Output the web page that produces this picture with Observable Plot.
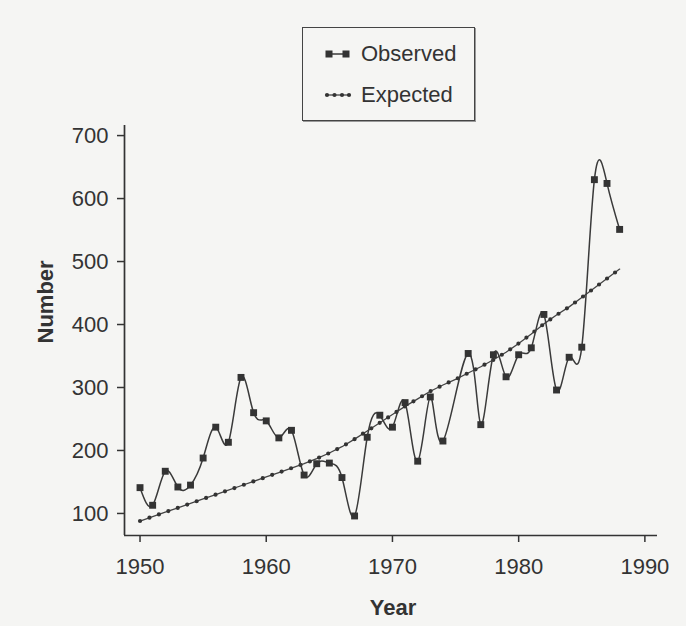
<!DOCTYPE html>
<html>
<head>
<meta charset="utf-8">
<script src="https://cdn.jsdelivr.net/npm/d3@7"></script>
<script src="https://cdn.jsdelivr.net/npm/@observablehq/plot@0.6"></script>
<style>
  html, body { margin: 0; padding: 0; background: #f5f5f3; }
  #wrap { position: relative; width: 686px; height: 626px; font-family: "Liberation Sans", Arial, Helvetica, sans-serif; color: #333; }
  #legend { position: absolute; left: 302px; top: 27px; width: 173px; height: 94px; box-sizing: border-box;
            border: 1.5px solid #444; box-shadow: 1px 1px 0 #999; background: transparent; }
  #legend .row { position: absolute; left: 0; height: 30px; display: flex; align-items: center; font-size: 22px; }
  #legend svg { display: block; }
</style>
</head>
<body>
<div id="wrap"></div>
<script>
// ---- data ----
const obsYears = [1950,1951,1952,1953,1954,1955,1956,1957,1958,1959,1960,1961,1962,1963,1964,1965,1966,1967,1968,1969,1970,1971,1972,1973,1974,1976,1977,1978,1979,1980,1981,1982,1983,1984,1985,1986,1987,1988];
const obsValues = [141,113,167,142,145,188,237,213,316,260,247,220,232,161,179,180,157,96,221,256,237,276,183,285,215,354,241,352,317,352,363,416,296,348,364,630,624,551];

const expYears = [1950,1951,1952,1953,1954,1955,1956,1957,1958,1959,1960,1961,1962,1963,1964,1965,1966,1967,1968,1969,1970,1971,1972,1973,1974,1975,1976,1977,1978,1979,1980,1981,1982,1983,1984,1985,1986,1987,1988];
const expValues = [88,95,102,109,116,123,130,137,144,151,158,165,172,179,187,196,206,218,231,244,257,270,282,294,304,313,323,333,344,356,370,385,401,415,428,443,458,473,488];

const xTicks = [1950,1960,1970,1980,1990];
const yTicks = [100,200,300,400,500,600,700];
const xDomain = [1948.77, 1991.0];
const yDomain = [65, 716];
const seriesNames = ["Observed", "Expected"];
const xTitle = "Year";
const yTitle = "Number";

const observed = obsYears.map((year, i) => ({year, value: obsValues[i]}));
const expected = expYears.map((year, i) => ({year, value: expValues[i]}));

const ink = "#333";
const font = "Liberation Sans, Arial, Helvetica, sans-serif";

const chart = Plot.plot({
  width: 686,
  height: 626,
  marginLeft: 124,
  marginRight: 29,
  marginTop: 125,
  marginBottom: 91,
  style: { background: "transparent", fontFamily: font, fontSize: "22px", color: ink, overflow: "visible" },
  x: { domain: xDomain },
  y: { domain: yDomain },
  marks: [
    Plot.axisX({ ticks: xTicks, tickFormat: d => String(d), tickSize: 7, tickPadding: 16, fontSize: 22, label: null, strokeWidth: 1.5 }),
    Plot.axisY({ ticks: yTicks, tickFormat: d => String(d), tickSize: 7, tickPadding: 9, fontSize: 22, label: null, strokeWidth: 1.5 }),
    Plot.ruleX([xDomain[0]], { stroke: ink, strokeWidth: 1.7 }),
    Plot.ruleY([yDomain[0]], { stroke: ink, strokeWidth: 1.7 }),
    // expected: thin line with dots along it
    Plot.line(expected, { x: "year", y: "value", stroke: "#444", strokeWidth: 1.3 }),
    Plot.line(expected, { x: "year", y: "value", stroke: ink, strokeWidth: 4.2, strokeDasharray: "0 10", strokeLinecap: "round" }),
    // observed: smoothed spline with square markers
    Plot.line(observed, { x: "year", y: "value", curve: "natural", stroke: "#3a3a3a", strokeWidth: 1.5 }),
    Plot.dot(observed, { x: "year", y: "value", symbol: "square", r: 3.9, fill: ink, stroke: "none" }),
    // axis titles
    Plot.text([xTitle], { frameAnchor: "bottom", text: d => d, dx: 2, dy: 72, lineAnchor: "middle", fontSize: 22, fontWeight: "bold", fill: ink }),
    Plot.text([yTitle], { frameAnchor: "left", text: d => d, dx: -79, dy: 13, rotate: -90, lineAnchor: "middle", fontSize: 22, fontWeight: "bold", fill: ink })
  ]
});

const wrap = document.getElementById("wrap");
wrap.appendChild(chart);

// legend (HTML, placed above the plot)
const legend = document.createElement("div");
legend.id = "legend";
const rows = [
  { name: seriesNames[0], top: 11, kind: "square" },
  { name: seriesNames[1], top: 52, kind: "dots" }
];
for (const r of rows) {
  const row = document.createElement("div");
  row.className = "row";
  row.style.top = r.top + "px";
  const sw = d3.create("svg").attr("width", 58).attr("height", 30);
  if (r.kind === "square") {
    sw.append("line").attr("x1", 26).attr("x2", 43).attr("y1", 15).attr("y2", 15).attr("stroke", "#3a3a3a").attr("stroke-width", 1.5);
    for (const cx of [26, 43]) sw.append("rect").attr("x", cx - 3.5).attr("y", 11.5).attr("width", 7).attr("height", 7).attr("fill", ink);
  } else {
    sw.append("line").attr("x1", 23).attr("x2", 46).attr("y1", 15).attr("y2", 15).attr("stroke", "#444").attr("stroke-width", 1.3);
    for (const cx of [24, 31.5, 39, 46]) sw.append("circle").attr("cx", cx).attr("cy", 15).attr("r", 2.1).attr("fill", ink);
  }
  row.appendChild(sw.node());
  const label = document.createElement("span");
  label.textContent = r.name;
  row.appendChild(label);
  legend.appendChild(row);
}
wrap.appendChild(legend);
</script>
</body>
</html>
